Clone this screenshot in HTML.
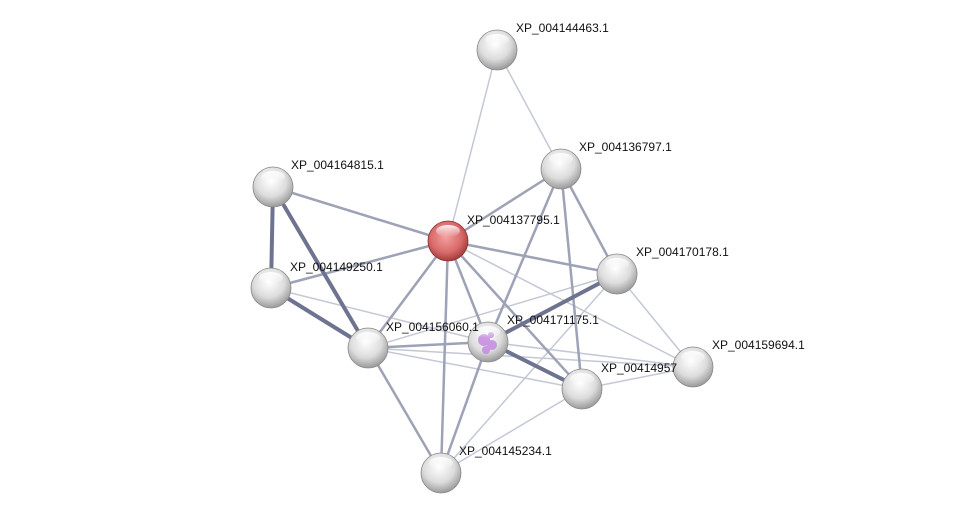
<!DOCTYPE html>
<html><head><meta charset="utf-8"><style>
html,body{margin:0;padding:0;background:#fff;}
svg{display:block;}
text{font-family:"Liberation Sans",sans-serif;font-size:12px;fill:#111;}
</style></head><body>
<svg width="975" height="518" viewBox="0 0 975 518" xmlns="http://www.w3.org/2000/svg">
<defs>
<radialGradient id="g" cx="45%" cy="35%" r="65%">
<stop offset="0" stop-color="#ffffff"/><stop offset="0.6" stop-color="#dcdcdc"/><stop offset="1" stop-color="#9a9a9a"/>
</radialGradient>
<radialGradient id="r" cx="45%" cy="40%" r="65%">
<stop offset="0" stop-color="#f4a0a0"/><stop offset="0.6" stop-color="#d86a6a"/><stop offset="1" stop-color="#9a3030"/>
</radialGradient>
<linearGradient id="hl" x1="0" y1="0" x2="0" y2="1">
<stop offset="0" stop-color="#fff" stop-opacity="0.9"/><stop offset="1" stop-color="#fff" stop-opacity="0"/>
</linearGradient>
</defs>
<g stroke-linecap="round" fill="none">
<!-- thin -->
<g stroke="#c4c8d6" stroke-width="1.5">
<line x1="497" y1="50" x2="448" y2="241"/>
<line x1="497" y1="50" x2="561" y2="169"/>
<line x1="448" y1="241" x2="693" y2="367"/>
<line x1="271" y1="288" x2="488" y2="342"/>
<line x1="368" y1="348" x2="582" y2="389"/>
<line x1="368" y1="348" x2="617" y2="274"/>
<line x1="368" y1="348" x2="693" y2="367"/>
<line x1="488" y1="342" x2="693" y2="367"/>
<line x1="617" y1="274" x2="693" y2="367"/>
<line x1="582" y1="389" x2="693" y2="367"/>
<line x1="441" y1="473" x2="617" y2="274"/>
<line x1="441" y1="473" x2="582" y2="389"/>
<line x1="448" y1="241" x2="368" y2="348"/>
</g>
<!-- medium -->
<g stroke="#9da2b6" stroke-width="2.5">
<line x1="561" y1="169" x2="448" y2="241"/>
<line x1="561" y1="169" x2="617" y2="274"/>
<line x1="561" y1="169" x2="488" y2="342"/>
<line x1="561" y1="169" x2="582" y2="389"/>
<line x1="273" y1="187" x2="448" y2="241"/>
<line x1="271" y1="288" x2="448" y2="241"/>
<line x1="448" y1="241" x2="617" y2="274"/>
<line x1="448" y1="241" x2="582" y2="389"/>
<line x1="448" y1="241" x2="488" y2="342"/>
<line x1="448" y1="241" x2="441" y2="473"/>
<line x1="448" y1="241" x2="368" y2="348"/>
<line x1="368" y1="348" x2="488" y2="342"/>
<line x1="368" y1="348" x2="441" y2="473"/>
<line x1="488" y1="342" x2="441" y2="473"/>
</g>
<!-- thick -->
<g stroke="#6e7390" stroke-width="4">
<line x1="273" y1="187" x2="271" y2="288"/>
<line x1="273" y1="187" x2="368" y2="348"/>
<line x1="271" y1="288" x2="368" y2="348"/>
<line x1="488" y1="342" x2="617" y2="274"/>
<line x1="488" y1="342" x2="582" y2="389"/>
</g>
</g>
<g>
<g transform="translate(497,50)"><circle r="20" fill="url(#g)" stroke="#888" stroke-width="0.8"/><ellipse cy="-10" rx="12" ry="6" fill="url(#hl)"/></g>
<g transform="translate(561,169)"><circle r="20" fill="url(#g)" stroke="#888" stroke-width="0.8"/><ellipse cy="-10" rx="12" ry="6" fill="url(#hl)"/></g>
<g transform="translate(273,187)"><circle r="20" fill="url(#g)" stroke="#888" stroke-width="0.8"/><ellipse cy="-10" rx="12" ry="6" fill="url(#hl)"/></g>
<g transform="translate(448,241)"><circle r="20" fill="url(#r)" stroke="#8a3030" stroke-width="0.8"/><ellipse cy="-10" rx="12" ry="6" fill="url(#hl)"/></g>
<g transform="translate(617,274)"><circle r="20" fill="url(#g)" stroke="#888" stroke-width="0.8"/><ellipse cy="-10" rx="12" ry="6" fill="url(#hl)"/></g>
<g transform="translate(271,288)"><circle r="20" fill="url(#g)" stroke="#888" stroke-width="0.8"/><ellipse cy="-10" rx="12" ry="6" fill="url(#hl)"/></g>
<g transform="translate(368,348)"><circle r="20" fill="url(#g)" stroke="#888" stroke-width="0.8"/><ellipse cy="-10" rx="12" ry="6" fill="url(#hl)"/></g>
<g transform="translate(488,342)"><circle r="20" fill="url(#g)" stroke="#888" stroke-width="0.8"/>
<g fill="#c48ae0" opacity="0.85"><circle cx="-4" cy="-2" r="6"/><circle cx="4" cy="3" r="5"/><circle cx="-2" cy="8" r="4"/><circle cx="3" cy="-7" r="3"/></g>
<ellipse cy="-10" rx="12" ry="6" fill="url(#hl)"/></g>
<g transform="translate(693,367)"><circle r="20" fill="url(#g)" stroke="#888" stroke-width="0.8"/><ellipse cy="-10" rx="12" ry="6" fill="url(#hl)"/></g>
<g transform="translate(582,389)"><circle r="20" fill="url(#g)" stroke="#888" stroke-width="0.8"/><ellipse cy="-10" rx="12" ry="6" fill="url(#hl)"/></g>
<g transform="translate(441,473)"><circle r="20" fill="url(#g)" stroke="#888" stroke-width="0.8"/><ellipse cy="-10" rx="12" ry="6" fill="url(#hl)"/></g>
</g>
<g>
<text x="516" y="32">XP_004144463.1</text>
<text x="579" y="151">XP_004136797.1</text>
<text x="291" y="169">XP_004164815.1</text>
<text x="467" y="224">XP_004137795.1</text>
<text x="636" y="256">XP_004170178.1</text>
<text x="290" y="271">XP_004149250.1</text>
<text x="386" y="331">XP_004156060.1</text>
<text x="507" y="324">XP_004171175.1</text>
<text x="712" y="349">XP_004159694.1</text>
<text x="601" y="372">XP_00414957</text>
<text x="459" y="455">XP_004145234.1</text>
</g>
</svg>
</body></html>
